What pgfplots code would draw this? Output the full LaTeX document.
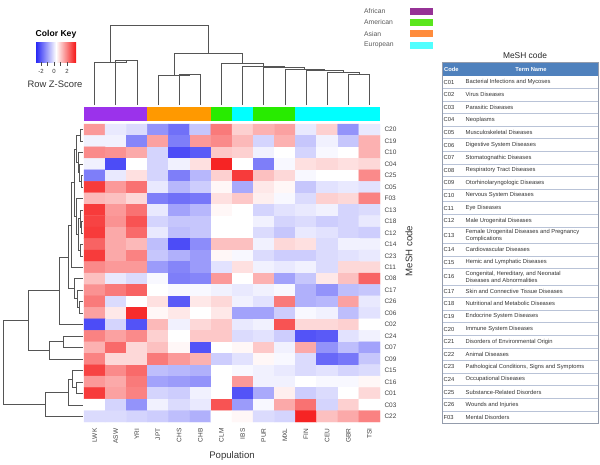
\documentclass[border=0pt]{standalone}
\usepackage{fontspec}
\setmainfont{Liberation Sans}
\usepackage{pgfplots}
\pgfplotsset{compat=1.18}

\definecolor{afr}{RGB}{155,50,235}
\definecolor{amr}{RGB}{40,235,0}
\definecolor{asn}{RGB}{255,153,0}
\definecolor{eur}{RGB}{0,255,255}
\definecolor{afrL}{RGB}{150,50,150}
\definecolor{amrL}{RGB}{90,230,30}
\definecolor{asnL}{RGB}{255,140,60}
\definecolor{eurL}{RGB}{80,255,255}
\definecolor{dendro}{RGB}{85,85,85}
\definecolor{hdr}{RGB}{79,129,189}
\definecolor{grid}{RGB}{185,195,215}
\definecolor{kblue}{RGB}{40,40,245}
\definecolor{kred}{RGB}{245,20,20}

\newcommand\tf{\fontsize{5.8}{7}\selectfont}
\newcommand\trow[3]{%
  \node[anchor=west,font=\tf,text=black!80,inner sep=0pt] at (443.5,#3) {#1};
  \node[anchor=west,font=\tf,text=black!80,inner sep=0pt,align=left] at (465.5,#3) {#2};}

\pgfplotsset{
  dend/.style={hide axis, clip=false, scale only axis},
  br/.style={draw=dendro, line width=0.6pt, mark=none},
}

\begin{document}
\begin{tikzpicture}[x=1pt,y=1pt]
\path (0,0) rectangle (600,-464);

% ---------------- heatmap ----------------
\begin{axis}[
    at={(84pt,-124pt)}, anchor=north west,
    scale only axis, width=296pt, height=298pt,
    xmin=-0.5, xmax=13.5, ymin=-0.5, ymax=25.5,
    y dir=reverse, clip=false,
    axis line style={draw=none}, major tick length=0pt,
    xtick={0,...,13},
    xticklabels={LWK,ASW,YRI,JPT,CHS,CHB,CLM,IBS,PUR,MXL,FIN,CEU,GBR,TSI},
    xticklabel style={rotate=90, anchor=east, font=\fontsize{6.5}{7.5}\selectfont, text=black!75},
    xticklabel shift=3pt,
    ytick={0,...,25},
    yticklabels={C20,C19,C10,C04,C25,C05,F03,C13,C18,C12,C14,C23,C11,C08,C17,C26,C06,C02,C24,C07,C09,C15,C16,C01,C03,C22},
    yticklabel pos=right,
    yticklabel style={anchor=west, font=\fontsize{6.5}{7.5}\selectfont, text=black!75},
    yticklabel shift=1pt,
    colormap={bwr}{rgb255=(40,40,245) rgb255=(255,255,255) rgb255=(245,20,20)},
    point meta min=-3, point meta max=3,
]
\addplot[matrix plot*, mesh/cols=14, point meta=explicit]
  table[row sep=\\, x expr={mod(\coordindex,14)}, y expr={floor((\coordindex+0.5)/14)}, meta=c] {
c\\
1.3\\ -0.3\\ -0.5\\ -1.5\\ -2.0\\ -0.8\\ 1.7\\ 0.6\\ 1.0\\ 1.2\\ -0.3\\ 0.6\\ -1.5\\ -0.3\\
-0.2\\ -0.2\\ -1.7\\ 1.2\\ -1.8\\ 1.3\\ 1.5\\ 0.9\\ -0.6\\ 1.0\\ -0.8\\ -0.2\\ -0.8\\ 1.0\\
1.5\\ 1.4\\ 1.1\\ -0.6\\ -2.5\\ -2.3\\ 0.7\\ 0.6\\ -0.2\\ 0.0\\ -0.6\\ -0.1\\ 0.0\\ 1.0\\
-0.2\\ -2.5\\ 0.0\\ -0.6\\ -0.2\\ 0.4\\ 2.8\\ 0.0\\ -1.8\\ -0.1\\ 0.4\\ 0.5\\ 0.4\\ 0.5\\
-1.8\\ -0.3\\ 0.4\\ -0.6\\ -1.8\\ -1.0\\ 0.6\\ 2.5\\ 0.8\\ 0.5\\ -0.1\\ 0.0\\ 0.0\\ 1.5\\
2.5\\ 1.3\\ 1.8\\ -0.3\\ -1.0\\ -0.7\\ 0.1\\ -1.2\\ 0.3\\ 0.1\\ -0.8\\ -0.4\\ -0.3\\ -0.4\\
0.9\\ 0.8\\ 0.5\\ -1.8\\ -2.0\\ -1.9\\ 0.4\\ 0.7\\ 0.2\\ -0.1\\ -0.5\\ 0.6\\ 0.5\\ 1.6\\
2.5\\ 1.3\\ 1.8\\ -0.3\\ -1.3\\ -1.0\\ 0.1\\ 0.0\\ -0.6\\ -0.4\\ -0.3\\ -0.2\\ -0.6\\ -0.5\\
2.4\\ 1.4\\ 2.2\\ -0.6\\ -0.8\\ -0.8\\ 0.0\\ 0.0\\ -0.2\\ -0.6\\ -0.5\\ -0.7\\ -0.6\\ -0.3\\
2.5\\ 1.1\\ 1.9\\ -0.3\\ -0.9\\ -0.8\\ 0.0\\ 0.0\\ -0.5\\ -0.8\\ -0.3\\ -0.4\\ -0.6\\ -0.7\\
2.0\\ 1.1\\ 0.9\\ -0.9\\ -2.5\\ -1.6\\ 0.8\\ 0.8\\ -0.2\\ 0.5\\ 0.4\\ -0.5\\ -0.2\\ -0.2\\
2.5\\ 1.1\\ 1.6\\ -0.8\\ -1.1\\ -1.4\\ 0.1\\ -0.1\\ -0.5\\ -0.7\\ -0.7\\ -0.5\\ -0.4\\ -0.3\\
1.5\\ 1.3\\ 1.3\\ -1.4\\ -1.7\\ -1.4\\ -0.4\\ 0.4\\ -0.2\\ -0.3\\ -0.2\\ -0.5\\ 0.5\\ 0.5\\
0.8\\ -0.3\\ -0.5\\ -0.1\\ -1.8\\ -1.7\\ 1.3\\ 0.0\\ 1.0\\ -1.3\\ -0.8\\ 0.3\\ 0.8\\ 2.0\\
1.4\\ 1.7\\ 2.0\\ 0.0\\ -0.1\\ -0.1\\ -0.2\\ -0.3\\ -0.2\\ -0.1\\ -1.1\\ -1.5\\ -0.9\\ -0.8\\
1.7\\ -0.5\\ 0.0\\ 0.4\\ -2.3\\ 0.3\\ 0.5\\ -0.2\\ -0.4\\ 1.7\\ -1.1\\ -1.0\\ 1.2\\ -0.3\\
1.2\\ 0.3\\ 2.7\\ 0.1\\ 0.3\\ 0.0\\ 0.3\\ -1.3\\ -1.3\\ -0.7\\ -0.1\\ -0.2\\ -0.9\\ -0.4\\
-2.5\\ -0.6\\ -2.4\\ 0.9\\ -0.2\\ 0.5\\ 0.7\\ -0.3\\ -0.2\\ 2.2\\ 0.5\\ 0.5\\ 0.6\\ 0.0\\
1.6\\ 1.2\\ 1.5\\ 0.6\\ 0.0\\ 0.7\\ 0.7\\ -0.5\\ -0.4\\ -0.7\\ -2.4\\ -2.3\\ -0.4\\ -0.2\\
1.0\\ 1.9\\ 0.5\\ 0.8\\ 0.1\\ -2.4\\ 0.0\\ 0.1\\ 0.7\\ -0.2\\ 1.1\\ -1.5\\ -0.9\\ -1.3\\
1.6\\ 0.5\\ 0.5\\ 1.7\\ 1.3\\ 1.0\\ -0.7\\ -0.4\\ 0.1\\ -0.1\\ -0.5\\ -2.1\\ -1.9\\ -0.8\\
2.4\\ 1.5\\ 1.9\\ -0.9\\ -1.0\\ -1.1\\ 0.0\\ -0.1\\ -0.2\\ -0.3\\ -0.5\\ -0.4\\ -0.6\\ -0.5\\
1.3\\ 1.1\\ 1.7\\ -1.3\\ -1.4\\ -1.5\\ 0.0\\ 1.3\\ -0.2\\ -0.2\\ 0.0\\ -0.1\\ -0.1\\ 0.1\\
2.5\\ 1.2\\ 1.6\\ -0.6\\ -0.7\\ -0.2\\ 0.0\\ -2.4\\ -1.2\\ 0.2\\ -0.7\\ -0.5\\ 0.0\\ 0.5\\
0.0\\ -0.6\\ -1.5\\ -0.2\\ -0.5\\ -0.3\\ 2.2\\ -1.4\\ -0.1\\ 1.1\\ 1.8\\ -0.6\\ 0.6\\ 0.0\\
-0.5\\ -0.5\\ -0.6\\ -0.7\\ -0.9\\ -1.1\\ 0.0\\ 0.1\\ -0.5\\ -0.6\\ 2.8\\ 0.8\\ 1.1\\ 1.6\\
};
% population side bar
\fill[afr] (axis cs:-0.5,-1.98) rectangle (axis cs:2.5,-0.76);
\fill[asn] (axis cs:2.5,-1.98) rectangle (axis cs:5.5,-0.76);
\fill[amr] (axis cs:5.5,-1.98) rectangle (axis cs:6.5,-0.76);
\fill[eur] (axis cs:6.5,-1.98) rectangle (axis cs:7.5,-0.76);
\fill[amr] (axis cs:7.5,-1.98) rectangle (axis cs:9.5,-0.76);
\fill[eur] (axis cs:9.5,-1.98) rectangle (axis cs:13.5,-0.76);
\end{axis}

% ---------------- column dendrogram ----------------
\begin{axis}[dend, at={(84pt,-25pt)}, anchor=north west, width=296pt, height=80pt,
    xmin=-0.5, xmax=13.5, ymin=25, ymax=105, y dir=reverse]
\addplot[br] coordinates {(1,105) (1,60) (2,60) (2,105)};
\addplot[br] coordinates {(0,105) (0,62) (1.5,62) (1.5,60)};
\addplot[br] coordinates {(4,105) (4,74) (5,74) (5,105)};
\addplot[br] coordinates {(3,105) (3,75) (4.5,75) (4.5,74)};
\addplot[br] coordinates {(12,105) (12,74) (13,74) (13,105)};
\addplot[br] coordinates {(11,105) (11,72) (12.5,72) (12.5,74)};
\addplot[br] coordinates {(10,105) (10,70) (11.75,70) (11.75,72)};
\addplot[br] coordinates {(9,105) (9,69) (10.875,69) (10.875,70)};
\addplot[br] coordinates {(8,105) (8,67) (9.9375,67) (9.9375,69)};
\addplot[br] coordinates {(7,105) (7,66) (8.96875,66) (8.96875,67)};
\addplot[br] coordinates {(6,105) (6,63) (7.984,63) (7.984,66)};
\addplot[br] coordinates {(3.75,75) (3.75,53) (6.992,53) (6.992,63)};
\addplot[br] coordinates {(0.75,62) (0.75,25) (5.371,25) (5.371,53)};
\end{axis}

% ---------------- row dendrogram ----------------
\begin{axis}[dend, at={(3pt,-124pt)}, anchor=north west, width=81pt, height=298pt,
    xmin=3, xmax=84, ymin=-0.5, ymax=25.5, y dir=reverse]
\addplot[br] coordinates {(83,0) (80,0) (80,1) (83,1)};
\addplot[br] coordinates {(83,4) (81,4) (81,5) (83,5)};
\addplot[br] coordinates {(83,3) (79,3) (79,4.5) (81,4.5)};
\addplot[br] coordinates {(83,2) (78,2) (78,3.75) (79,3.75)};
\addplot[br] coordinates {(80,0.5) (76,0.5) (76,2.875) (78,2.875)};
\addplot[br] coordinates {(83,8) (81,8) (81,9) (83,9)};
\addplot[br] coordinates {(83,7) (80,7) (80,8.5) (81,8.5)};
\addplot[br] coordinates {(83,10) (80,10) (80,11) (83,11)};
\addplot[br] coordinates {(80,7.75) (78,7.75) (78,10.5) (80,10.5)};
\addplot[br] coordinates {(83,6) (76.5,6) (76.5,9.125) (78,9.125)};
\addplot[br] coordinates {(76,1.6875) (74,1.6875) (74,7.5625) (76.5,7.5625)};
\addplot[br] coordinates {(74,4.625) (71,4.625) (71,12) (83,12)};
\addplot[br] coordinates {(83,15) (79,15) (79,16) (83,16)};
\addplot[br] coordinates {(83,14) (77,14) (77,15.5) (79,15.5)};
\addplot[br] coordinates {(83,13) (74,13) (74,14.75) (77,14.75)};
\addplot[br] coordinates {(71,8.3125) (68,8.3125) (68,13.875) (74,13.875)};
\addplot[br] coordinates {(68,11.094) (59,11.094) (59,17) (83,17)};
\addplot[br] coordinates {(83,18) (63,18) (63,19) (83,19)};
\addplot[br] coordinates {(63,18.5) (49,18.5) (49,20) (83,20)};
\addplot[br] coordinates {(59,14.047) (28,14.047) (28,19.25) (49,19.25)};
\addplot[br] coordinates {(83,22) (76,22) (76,23) (83,23)};
\addplot[br] coordinates {(83,21) (72,21) (72,22.5) (76,22.5)};
\addplot[br] coordinates {(72,21.75) (68,21.75) (68,24) (83,24)};
\addplot[br] coordinates {(68,22.875) (45,22.875) (45,25) (83,25)};
\addplot[br] coordinates {(28,16.648) (3,16.648) (3,23.9375) (45,23.9375)};
\end{axis}

\begin{scope}[yscale=-1]
% ---------------- colour key ----------------
\node[font=\bfseries\fontsize{8.6}{10}\selectfont] at (56,34) {Color Key};
\shade[left color=kblue, right color=kred, middle color=white] (36,42) rectangle (76,62);
\foreach \xx in {41,47.5,54,60.5,67} \draw[black!70, line width=0.4pt] (\xx,62) -- (\xx,65.5);
\node[font=\fontsize{6}{7}\selectfont, text=black!80] at (41,71.5) {-2};
\node[font=\fontsize{6}{7}\selectfont, text=black!80] at (54,71.5) {0};
\node[font=\fontsize{6}{7}\selectfont, text=black!80] at (67,71.5) {2};
\node[font=\fontsize{9.4}{11}\selectfont, text=black!80] at (55,84) {Row Z-Score};

% ---------------- group legend ----------------
\foreach \lab/\col/\yy in {African/afrL/11.2, American/amrL/22.5, Asian/asnL/33.8, European/eurL/45.1} {
  \node[anchor=west, font=\fontsize{6.8}{8}\selectfont, text=black!65, inner sep=0pt] at (364,\yy) {\lab};
  \fill[\col] (410,\yy-3.4) rectangle (433,\yy+3.4);
}

% ---------------- axis titles ----------------
\node[font=\fontsize{9.6}{11}\selectfont, text=black!80] at (232,456) {Population};
\node[font=\fontsize{9.6}{11}\selectfont, text=black!80, rotate=90] at (409,251) {MeSH code};

% ---------------- MeSH table ----------------
\node[font=\fontsize{8.4}{10}\selectfont, text=black!85] at (525,55) {MeSH code};
\fill[hdr] (442,62.5) rectangle (598,75.7);
\node[anchor=west, font=\bfseries\tf, text=white, inner sep=0pt] at (444,69.1) {Code};
\node[font=\bfseries\tf, text=white, inner sep=0pt] at (531,69.1) {Term Name};
\foreach \yy in {88.3,100.9,113.5,126.1,138.7,151.3,163.9,176.5,189.1,201.7,214.3,226.9,
                 243.3,255.9,268.5,284.9,297.5,310.1,322.7,335.3,347.9,360.5,373.1,385.7,398.3,410.9}
  \draw[grid, line width=0.5pt] (442,\yy) -- (598,\yy);
\draw[grid!80!black, line width=0.5pt] (442,62.5) rectangle (598,423.5);
\trow{C01}{Bacterial Infections and Mycoses}{82}
\trow{C02}{Virus Diseases}{94.6}
\trow{C03}{Parasitic Diseases}{107.2}
\trow{C04}{Neoplasms}{119.8}
\trow{C05}{Musculoskeletal Diseases}{132.4}
\trow{C06}{Digestive System Diseases}{145}
\trow{C07}{Stomatognathic Diseases}{157.6}
\trow{C08}{Respiratory Tract Diseases}{170.2}
\trow{C09}{Otorhinolaryngologic Diseases}{182.8}
\trow{C10}{Nervous System Diseases}{195.4}
\trow{C11}{Eye Diseases}{208}
\trow{C12}{Male Urogenital Diseases}{220.6}
\trow{C13}{Female Urogenital Diseases and Pregnancy\\Complications}{235.1}
\trow{C14}{Cardiovascular Diseases}{249.6}
\trow{C15}{Hemic and Lymphatic Diseases}{262.2}
\trow{C16}{Congenital, Hereditary, and Neonatal\\Diseases and Abnormalities}{276.7}
\trow{C17}{Skin and Connective Tissue Diseases}{291.2}
\trow{C18}{Nutritional and Metabolic Diseases}{303.8}
\trow{C19}{Endocrine System Diseases}{316.4}
\trow{C20}{Immune System Diseases}{329}
\trow{C21}{Disorders of Environmental Origin}{341.6}
\trow{C22}{Animal Diseases}{354.2}
\trow{C23}{Pathological Conditions, Signs and Symptoms}{366.8}
\trow{C24}{Occupational Diseases}{379.4}
\trow{C25}{Substance-Related Disorders}{392}
\trow{C26}{Wounds and Injuries}{404.6}
\trow{F03}{Mental Disorders}{417.2}
\end{scope}
\end{tikzpicture}
\end{document}
